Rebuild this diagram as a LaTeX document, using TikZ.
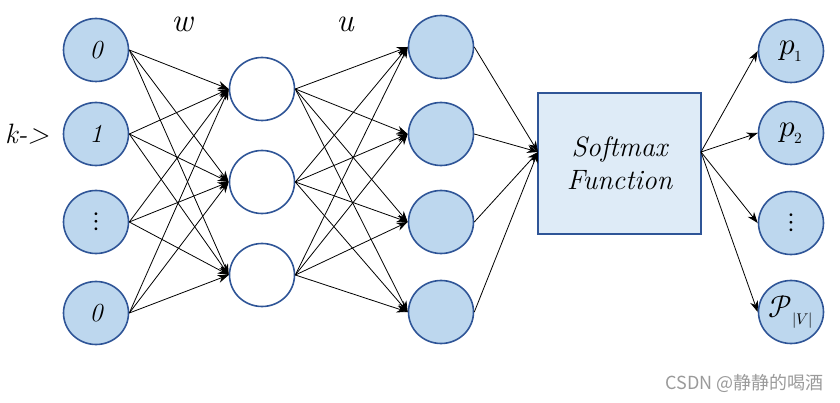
\documentclass[tikz,border=0pt]{standalone}
\usepackage{fontspec}
\usepackage{unicode-math}
\usetikzlibrary{arrows.meta,shapes.geometric}
\newfontfamily\cjkfont{Noto Sans CJK SC}
\definecolor{nodefill}{HTML}{BDD7EE}
\definecolor{nodeedge}{HTML}{2F5597}
\definecolor{boxfill}{HTML}{DEEBF7}
\definecolor{wmgray}{HTML}{9A9A9A}
\begin{document}
\begin{tikzpicture}[x=1pt,y=-1pt,
  neuron/.style={ellipse,minimum width=65pt,minimum height=63pt,inner sep=0pt,draw=nodeedge,line width=1.6pt},
  bluen/.style={neuron,fill=nodefill},
  whiten/.style={neuron,fill=white},
  smbox/.style={rectangle,draw=nodeedge,fill=boxfill,line width=1.6pt,minimum width=163pt,minimum height=141pt,inner sep=0pt,align=center},
  conn/.style={line width=0.8pt,-{Stealth[length=11pt,width=8pt]}},
  lab/.style={font=\fontsize{26}{28}\selectfont\itshape},
  dotlab/.style={font=\fontsize{27}{30}\selectfont},
  plab/.style={font=\fontsize{31}{34}\selectfont},
  biglab/.style={font=\fontsize{33}{36}\selectfont\itshape}]
\useasboundingbox (0,0) rectangle (840,403);
% input layer
\node[bluen,lab] (i0) at (96,50) {0};
\node[bluen,lab] (i1) at (96,134) {1};
\node[bluen,dotlab] (i2) at (96,222) {$\vdots$};
\node[bluen,lab] (i3) at (96,313) {0};
% hidden layer
\node[whiten] (h0) at (262,89) {};
\node[whiten] (h1) at (262,182) {};
\node[whiten] (h2) at (262,275) {};
% output layer
\node[bluen] (o0) at (441,47) {};
\node[bluen] (o1) at (441,134) {};
\node[bluen] (o2) at (441,222) {};
\node[bluen] (o3) at (441,312) {};
% softmax
\node[smbox,font=\fontsize{28}{33}\selectfont\itshape] (sm) at (619.5,163.5) {Softmax\\Function};
\coordinate (smin) at (538,152);
\coordinate (smout) at (701,152);
% probabilities
\node[bluen,plab] (p0) at (791,51) {$p_{\scriptscriptstyle 1}$};
\node[bluen,plab] (p1) at (791,133) {$p_{\scriptscriptstyle 2}$};
\node[bluen,dotlab] (p2) at (791,223) {$\vdots$};
\node[bluen,plab] (p3) at (791,312) {$\mathcal{P}_{\scriptscriptstyle |V|}$};
% labels
\node[biglab] (lw) at (182,24) {w};
\node[biglab] (lu) at (345,24) {u};
\node[font=\fontsize{28}{30}\selectfont\itshape] (lk) at (27,134) {k->};
% connectors
\foreach \a in {i0,i1,i2,i3}{
  \foreach \b in {h0,h1,h2}{
    \draw[conn] (\a.east) -- (\b.west);
  }
}
\foreach \a in {h0,h1,h2}{
  \foreach \b in {o0,o1,o2,o3}{
    \draw[conn] (\a.east) -- (\b.west);
  }
}
\foreach \a in {o0,o1,o2,o3}{
  \draw[conn] (\a.east) -- (smin);
}
\foreach \b in {p0,p1,p2,p3}{
  \draw[conn] (smout) -- (\b.west);
}
% watermark
\node[anchor=east,text=wmgray,font=\cjkfont\fontsize{18}{20}\selectfont] (wm) at (827,383) {CSDN @静静的喝酒};
\end{tikzpicture}
\end{document}
